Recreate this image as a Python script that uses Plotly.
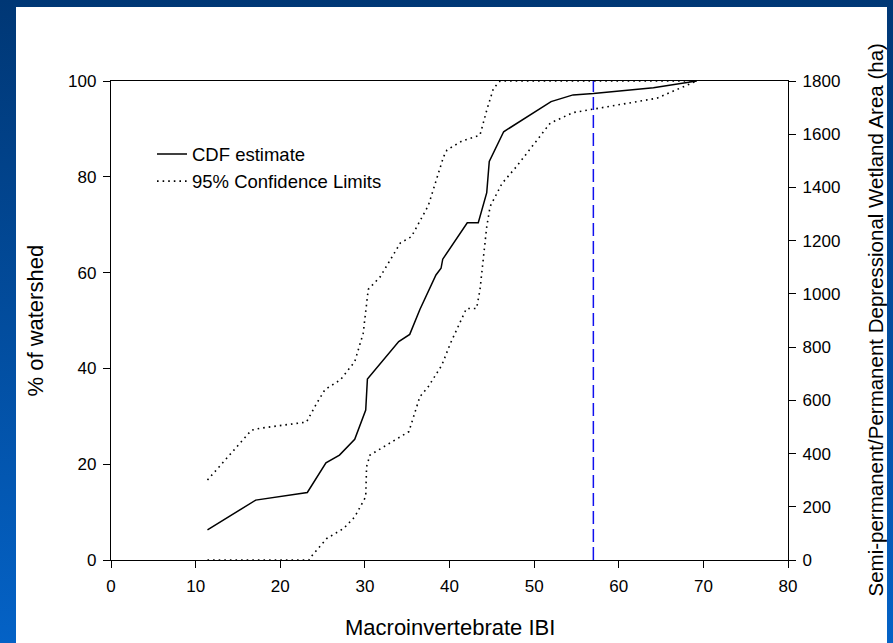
import base64
import plotly.graph_objects as go

# ---------------- data ----------------
cdf_x = [11.4, 17.1, 23.2, 25.4, 27.0, 28.8, 30.1, 30.3, 34.0, 35.3, 36.5, 38.4, 39.0, 39.2,
         42.1, 43.4, 44.4, 44.7, 46.4, 52.0, 54.6, 57.0, 64.1, 69.2]
cdf_y = [6.3, 12.5, 14.1, 20.3, 21.9, 25.2, 31.3, 37.8, 45.6, 47.1, 52.3, 59.5, 60.9, 62.8,
         70.4, 70.4, 76.7, 83.2, 89.4, 95.7, 97.1, 97.4, 98.6, 100]

upper_x = [11.4, 16.6, 17.6, 23.1, 24.3, 25.3, 27.1, 28.8, 29.8, 30.2, 30.4, 31.8, 34.2, 35.5,
           37.5, 39.3, 39.7, 41.5, 43.6, 44.4, 45.2, 46.0, 69.2]
upper_y = [16.7, 27.1, 27.5, 28.8, 32.7, 35.6, 37.6, 41.4, 47.3, 52.9, 56.5, 59.1, 66.2, 67.5,
           74.0, 84.2, 85.6, 87.5, 88.7, 93.9, 98.5, 100, 100]

lower_x = [11.4, 23.4, 23.7, 25.5, 27.5, 28.8, 30.1, 30.2, 30.6, 33.8, 35.2, 36.5, 37.5, 39.1,
           40.1, 42.0, 43.2, 43.6, 44.4, 44.8, 46.2, 47.9, 51.9, 54.6, 57.0, 64.5, 69.2]
lower_y = [0, 0, 0.8, 4.5, 6.6, 9.0, 13.2, 19.5, 21.9, 25.2, 26.8, 34.1, 36.2, 40.7,
           45.2, 52.5, 52.5, 56.4, 69.6, 73.8, 78.6, 82.1, 91.2, 93.4, 94.1, 96.4, 100]

threshold_x = [57.0, 57.0]
threshold_y = [0, 100]

x_ticks = [0, 10, 20, 30, 40, 50, 60, 70, 80]
y_ticks = [0, 20, 40, 60, 80, 100]
y2_ticks = [0, 200, 400, 600, 800, 1000, 1200, 1400, 1600, 1800]

# ---------------- layout constants ----------------
W, H = 893, 643
L, R, T, B = 111, 105, 81, 83
PW, PH = W - L - R, H - T - B
FONT = "Arial, 'Liberation Sans', sans-serif"

# background: blue gradient frame with white slide area
svg = f'''<svg xmlns="http://www.w3.org/2000/svg" width="{W}" height="{H}" viewBox="0 0 {W} {H}" preserveAspectRatio="none">
<defs><linearGradient id="g" x1="0" y1="0" x2="0" y2="1">
<stop offset="0" stop-color="#003775"/><stop offset="1" stop-color="#0462c6"/></linearGradient></defs>
<rect x="0" y="0" width="{W}" height="{H}" fill="url(#g)"/>
<rect x="16" y="7" width="871" height="{H - 7}" fill="#ffffff"/>
</svg>'''
src = "data:image/svg+xml;base64," + base64.b64encode(svg.encode()).decode()

fig = go.Figure()

fig.add_trace(go.Scatter(x=cdf_x, y=cdf_y, mode="lines", name="CDF estimate",
                         line=dict(color="#000000", width=1.5)))
fig.add_trace(go.Scatter(x=upper_x, y=upper_y, mode="lines", name="95% Confidence Limits",
                         legendgroup="ci",
                         line=dict(color="#000000", width=1.6, dash="1.6px,4px")))
fig.add_trace(go.Scatter(x=lower_x, y=lower_y, mode="lines", name="95% Confidence Limits",
                         legendgroup="ci", showlegend=False,
                         line=dict(color="#000000", width=1.6, dash="1.6px,4px")))
fig.add_trace(go.Scatter(x=threshold_x, y=threshold_y, mode="lines", showlegend=False,
                         line=dict(color="#1010ee", width=1.5, dash="13px,5px")))
fig.add_trace(go.Scatter(x=[], y=[], yaxis="y2", showlegend=False, hoverinfo="skip"))

axis_common = dict(showline=True, linecolor="#000000", linewidth=1.3, ticks="outside",
                   ticklen=7, tickwidth=1.3, tickcolor="#000000", showgrid=False,
                   zeroline=False, ticklabelstandoff=3,
                   tickfont=dict(family=FONT, size=17, color="#000000"))

fig.update_layout(
    width=W, height=H,
    margin=dict(l=L, r=R, t=T, b=B, pad=0),
    paper_bgcolor="#0a4a98",
    plot_bgcolor="#ffffff",
    font=dict(family=FONT, color="#000000"),
    xaxis=dict(range=[0, 80], tickvals=x_ticks, mirror=True, **axis_common),
    yaxis=dict(range=[0, 100], tickvals=y_ticks, **axis_common),
    yaxis2=dict(range=[0, 1800], tickvals=y2_ticks, overlaying="y", side="right",
                anchor="x", **axis_common),
    showlegend=True,
    legend=dict(x=(152 - L) / PW, y=(560 - 135.5) / PH, xanchor="left", yanchor="top",
                bgcolor="rgba(0,0,0,0)", font=dict(family=FONT, size=18.5, color="#000000"),
                tracegroupgap=0),
    images=[dict(source=src, xref="paper", yref="paper", x=-L / PW, y=1 + T / PH,
                 sizex=W / PW, sizey=H / PH, sizing="stretch", xanchor="left",
                 yanchor="top", layer="below")],
    annotations=[
        dict(text="Macroinvertebrate IBI", xref="paper", yref="paper", x=0.5,
             y=(560 - 627) / PH, xanchor="center", yanchor="middle", showarrow=False,
             font=dict(family=FONT, size=22, color="#000000")),
        dict(text="% of watershed", xref="paper", yref="paper", x=(35 - L) / PW,
             y=0.5, xanchor="center", yanchor="middle", showarrow=False, textangle=-90,
             font=dict(family=FONT, size=22, color="#000000")),
        dict(text="Semi-permanent/Permanent Depressional Wetland Area (ha)", xref="paper",
             yref="paper", x=(875 - L) / PW, y=0.5, xanchor="center", yanchor="middle",
             showarrow=False, textangle=-90,
             font=dict(family=FONT, size=20.5, color="#000000")),
    ],
)

fig.write_html("out.html",
               config={"displayModeBar": False},
               post_script="document.body.style.margin='0';"
                           "document.body.style.padding='0';"
                           "document.body.style.overflow='hidden';")
